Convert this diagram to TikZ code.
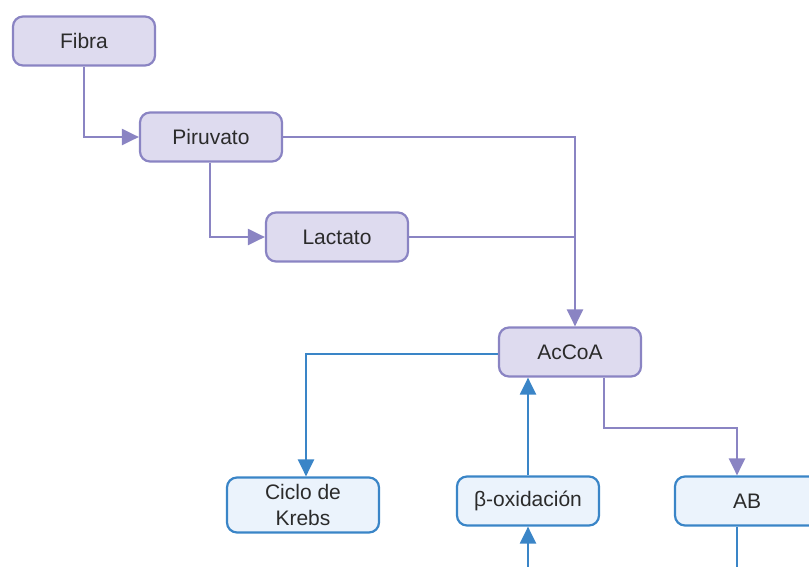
\documentclass[tikz,border=0pt]{standalone}
\usepackage{fontspec}
\setmainfont{Liberation Sans}
\usetikzlibrary{arrows.meta}
\definecolor{lila}{HTML}{8A84C3}
\definecolor{lilafondo}{HTML}{DEDBEF}
\definecolor{azul}{HTML}{3A85C7}
\definecolor{azulfondo}{HTML}{EBF3FC}
\definecolor{texto}{HTML}{2B2B2B}

\begin{document}
\begin{tikzpicture}[x=1pt,y=-1pt,
    caja/.style={draw=lila, fill=lilafondo, line width=2.2pt, rounded corners=10pt,
      minimum width=142pt, minimum height=49pt, text=texto, align=center,
      font=\fontsize{21}{26}\selectfont},
    cajaazul/.style={caja, draw=azul, fill=azulfondo},
    flecha/.style={lila, line width=2.2pt, -{Triangle[length=17pt,width=16pt]}},
    flechaazul/.style={flecha, azul},
    linea/.style={lila, line width=2.2pt}]
      \useasboundingbox (0,0) rectangle (809,566);
      \clip (0,0) rectangle (809,566);
      % cajas
      \node[caja] (fibra) at (84,41) {Fibra};
      \node[caja] (piruvato) at (211,137) {Piruvato};
      \node[caja] (lactato) at (337,237) {Lactato};
      \node[caja] (accoa) at (570,352) {AcCoA};
      \node[cajaazul, minimum width=152pt, minimum height=55pt] (krebs) at (303,505) {Ciclo de\\Krebs};
      \node[cajaazul] (beta) at (528,501) {β-oxidación};
      \node[cajaazul, minimum width=144pt] (ab) at (747,501) {AB};
      \coordinate (cruce) at (575,237);
      \coordinate (codo) at (604,428);
      \coordinate (abajo) at (528,575);
      \coordinate (fondo) at (737,575);
      % flechas
      \draw[flecha] (fibra.south) |- (piruvato.west);
      \draw[flecha] ([xshift=-1pt]piruvato.south) |- (lactato.west);
      \draw[linea] (piruvato.east) -| (cruce);
      \draw[linea] (lactato.east) -- (cruce);
      \draw[flecha] (cruce) -- (cruce |- accoa.north);
      \draw[flechaazul] ([yshift=-2pt]accoa.west) -| ([xshift=3pt]krebs.north);
      \draw[flechaazul] (beta.north) -- (beta.north |- accoa.south);
      \draw[flechaazul] (abajo) -- (beta.south);
      \draw[flecha] (codo |- accoa.south) -- (codo) -| (fondo |- ab.north);
      \draw[azul, line width=2.2pt] (fondo |- ab.south) -- (fondo);
\end{tikzpicture}
\end{document}
